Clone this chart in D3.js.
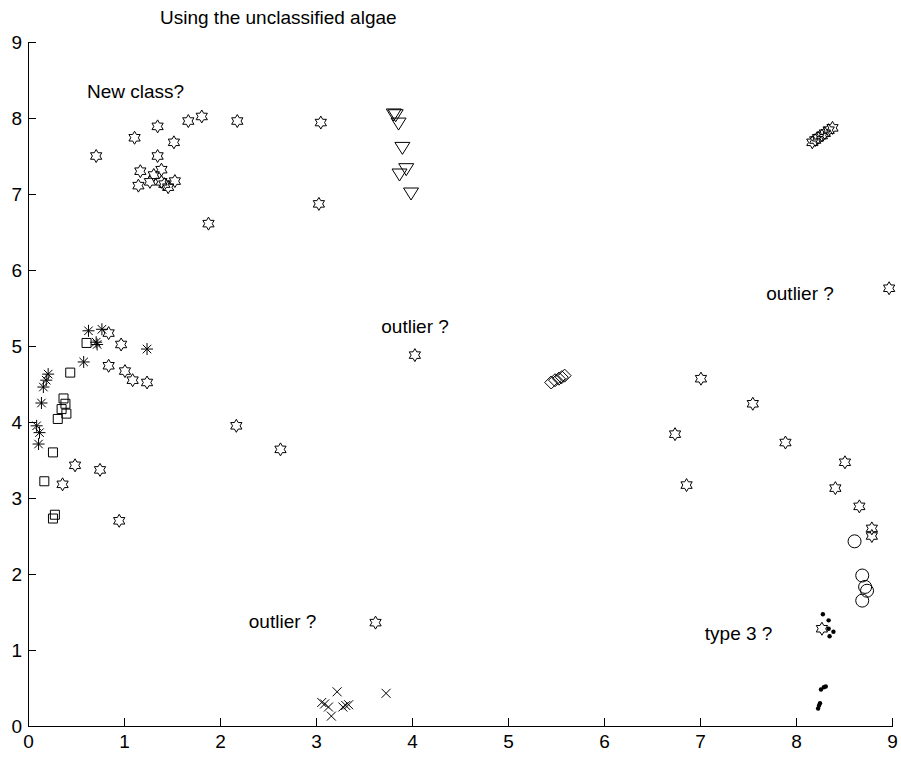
<!DOCTYPE html>
<html>
<head>
<meta charset="utf-8">
<script src="https://cdn.jsdelivr.net/npm/d3@7"></script>
<style>
  body { margin: 0; background: #fff; }
  svg { display: block; font-family: "Liberation Sans", Arial, sans-serif; }
</style>
</head>
<body>
<div id="chart"></div>
<script>
// Point groups as [x, y]
const hexagrams = [
  [0.71, 7.50], [1.11, 7.74], [1.35, 7.89], [1.67, 7.96], [1.81, 8.02], [2.18, 7.96],
  [3.05, 7.94], [1.52, 7.68], [1.35, 7.50], [1.17, 7.30], [1.39, 7.32], [1.15, 7.11],
  [1.27, 7.16], [1.31, 7.25], [1.39, 7.16], [1.42, 7.13], [1.46, 7.09], [1.53, 7.17],
  [1.88, 6.61], [3.03, 6.87],
  [0.84, 5.17], [0.97, 5.02], [0.84, 4.74], [1.01, 4.67], [1.09, 4.55], [1.24, 4.52],
  [2.17, 3.95], [2.63, 3.64], [0.49, 3.43], [0.75, 3.37], [0.36, 3.18], [0.95, 2.70],
  [4.03, 4.88], [3.62, 1.36],
  [7.01, 4.57], [7.55, 4.24], [6.74, 3.84], [7.89, 3.73], [8.51, 3.47], [6.86, 3.17],
  [8.41, 3.13], [8.66, 2.89], [8.79, 2.60], [8.79, 2.50], [8.27, 1.28], [8.97, 5.76],
  [8.17, 7.68], [8.20, 7.71], [8.23, 7.74], [8.27, 7.77], [8.30, 7.80], [8.34, 7.84], [8.38, 7.87]
];
const asterisks = [
  [0.63, 5.20], [0.77, 5.22], [0.72, 5.02], [0.71, 5.05], [1.24, 4.96], [0.58, 4.79],
  [0.21, 4.63], [0.19, 4.55], [0.16, 4.46], [0.14, 4.25], [0.09, 3.95], [0.12, 3.86], [0.11, 3.71]
];
const squares = [
  [0.61, 5.04], [0.44, 4.65], [0.37, 4.31], [0.39, 4.24], [0.35, 4.17], [0.40, 4.11],
  [0.31, 4.04], [0.26, 3.60], [0.17, 3.22], [0.28, 2.78], [0.26, 2.73]
];
const triangles = [
  [3.81, 8.04], [3.83, 8.03], [3.86, 7.92], [3.90, 7.60], [3.94, 7.32], [3.87, 7.25], [3.99, 7.00]
];
const diamonds = [[5.45, 4.52], [5.49, 4.55], [5.53, 4.57], [5.56, 4.59], [5.59, 4.61]];
const circles = [[8.61, 2.43], [8.69, 1.98], [8.72, 1.83], [8.74, 1.78], [8.69, 1.65]];
const dots = [
  [8.28, 1.47], [8.34, 1.39], [8.34, 1.28], [8.39, 1.24], [8.35, 1.18],
  [8.31, 0.52], [8.29, 0.51], [8.26, 0.48], [8.25, 0.30], [8.24, 0.27], [8.23, 0.23]
];
const crosses = [
  [3.22, 0.45], [3.73, 0.43], [3.06, 0.31], [3.09, 0.29], [3.13, 0.25], [3.16, 0.13],
  [3.28, 0.25], [3.34, 0.28], [3.31, 0.27]
];

const xTicks = [0, 1, 2, 3, 4, 5, 6, 7, 8, 9];
const yTicks = [0, 1, 2, 3, 4, 5, 6, 7, 8, 9];

// Text notes: [label, x, y] in data units (y is the baseline)
const notes = [
  ["New class?", 0.615, 8.26],
  ["outlier ?", 3.68, 5.17],
  ["outlier ?", 7.69, 5.61],
  ["outlier ?", 2.30, 1.29],
  ["type 3 ?", 7.05, 1.13]
];
const title = ["Using the unclassified algae", 1.375, 9.24];

const width = 901;
const height = 758;
const margin = { top: 42, right: 9, bottom: 32, left: 28 };

const svg = d3.select("#chart").append("svg")
  .attr("width", width)
  .attr("height", height);

const x = d3.scaleLinear().domain([0, 9]).range([margin.left, width - margin.right]);
const y = d3.scaleLinear().domain([0, 9]).range([height - margin.bottom, margin.top]);

// axes, ticks point inward
svg.append("g")
  .attr("transform", `translate(0,${y(0)})`)
  .call(d3.axisBottom(x).tickValues(xTicks).tickSizeInner(-8).tickSizeOuter(0).tickPadding(9))
  .call((g) => g.selectAll("text").attr("font-size", 19).attr("fill", "#000"))
  .call((g) => g.selectAll("line,path").attr("stroke", "#000").attr("shape-rendering", "crispEdges"));

svg.append("g")
  .attr("transform", `translate(${x(0)},0)`)
  .call(d3.axisLeft(y).tickValues(yTicks).tickSizeInner(-8).tickSizeOuter(0).tickPadding(6))
  .call((g) => g.selectAll("text").attr("font-size", 19).attr("fill", "#000"))
  .call((g) => g.selectAll("line,path").attr("stroke", "#000").attr("shape-rendering", "crispEdges"));

svg.selectAll("g").attr("font-family", null);

// marker paths, centred on 0,0
function hexagramPath(R) {
  const r = R / Math.sqrt(3);
  const pts = d3.range(12).map((i) => {
    const a = -Math.PI / 2 + (i * Math.PI) / 6;
    const rad = i % 2 === 0 ? R : r;
    return [rad * Math.cos(a), rad * Math.sin(a)];
  });
  return "M" + pts.map((p) => p.join(",")).join("L") + "Z";
}
function asteriskPath(s) {
  const d = s * Math.SQRT1_2;
  return `M${-s},0L${s},0M0,${-s}L0,${s}M${-d},${-d}L${d},${d}M${-d},${d}L${d},${-d}`;
}
const crossPath = (s) => `M${-s},${-s}L${s},${s}M${-s},${s}L${s},${-s}`;
const trianglePath = (w, h) => `M${-w},${-h / 2}L${w},${-h / 2}L0,${h / 2}Z`;
const diamondPath = (s) => `M0,${-s}L${s},0L0,${s}L${-s},0Z`;

const groups = [
  { data: hexagrams, d: hexagramPath(6.5), fill: "none" },
  { data: asterisks, d: asteriskPath(6), fill: "none" },
  { data: squares, d: "M-4.5,-4.5H4.5V4.5H-4.5Z", fill: "none" },
  { data: triangles, d: trianglePath(7.5, 12), fill: "none" },
  { data: diamonds, d: diamondPath(6.5), fill: "none" },
  { data: crosses, d: crossPath(4.5), fill: "none" }
];

groups.forEach((grp) => {
  svg.append("g")
    .selectAll("path")
    .data(grp.data)
    .join("path")
    .attr("transform", (p) => `translate(${x(p[0])},${y(p[1])})`)
    .attr("d", grp.d)
    .attr("fill", grp.fill)
    .attr("stroke", "#000")
    .attr("stroke-width", 1);
});

svg.append("g")
  .selectAll("circle")
  .data(circles)
  .join("circle")
  .attr("cx", (p) => x(p[0]))
  .attr("cy", (p) => y(p[1]))
  .attr("r", 6.5)
  .attr("fill", "none")
  .attr("stroke", "#000");

svg.append("g")
  .selectAll("circle")
  .data(dots)
  .join("circle")
  .attr("cx", (p) => x(p[0]))
  .attr("cy", (p) => y(p[1]))
  .attr("r", 2.2)
  .attr("fill", "#000");

// notes and title
svg.append("g")
  .selectAll("text")
  .data(notes.concat([title]))
  .join("text")
  .attr("x", (n) => x(n[1]))
  .attr("y", (n) => y(n[2]))
  .attr("font-size", 19)
  .attr("fill", "#000")
  .text((n) => n[0]);
</script>
</body>
</html>
